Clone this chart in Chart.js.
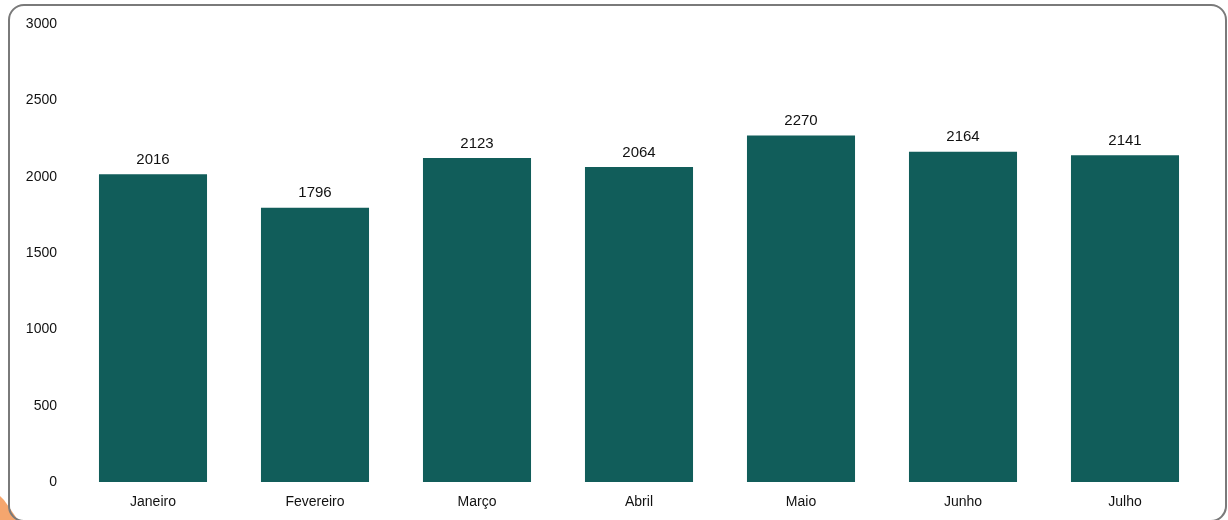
<!DOCTYPE html>
<html lang="pt">
<head>
<meta charset="utf-8">
<script src="https://cdn.jsdelivr.net/npm/chart.js"></script>
<style>
  html, body { margin: 0; padding: 0; background: #fff; }
  #wrap { position: relative; width: 1228px; height: 520px; overflow: hidden; }
  #frame { position: absolute; left: 8px; top: 4px; width: 1219px; height: 518px;
           border: 2px solid #7a7a7a; border-radius: 16px; box-sizing: border-box; }
  #blob { position: absolute; left: 0; top: 496px; width: 20px; height: 24px;
          background: #f5a66e; clip-path: polygon(0 0, 4px 4px, 18px 24px, 0 24px); }
  canvas { position: absolute; left: 0; top: 0; }
</style>
</head>
<body>
<div id="wrap">
  <div id="blob"></div>
  <div id="frame"></div>
  <canvas id="myChart" width="1228" height="520"></canvas>
</div>
<script>
const months = ['Janeiro', 'Fevereiro', 'Março', 'Abril', 'Maio', 'Junho', 'Julho'];
const totals = [2016, 1796, 2123, 2064, 2270, 2164, 2141];
const yTicks = [0, 500, 1000, 1500, 2000, 2500, 3000];

// labels on top of each bar
const barValues = {
  id: 'barValues',
  afterDatasetsDraw(chart) {
    const ctx = chart.ctx;
    const meta = chart.getDatasetMeta(0);
    ctx.save();
    ctx.font = '15px "Liberation Sans", Arial, sans-serif';
    ctx.fillStyle = '#111';
    ctx.textAlign = 'center';
    ctx.textBaseline = 'bottom';
    meta.data.forEach((bar, i) => {
      ctx.fillText(totals[i], bar.x, bar.y - 7);
    });
    ctx.restore();
  }
};

const config = {
  type: 'bar',
  data: {
    labels: months,
    datasets: [{
      data: totals,
      backgroundColor: '#115d5a',
      barPercentage: 0.667,
      categoryPercentage: 1
    }]
  },
  options: {
    responsive: false,
    animation: false,
    layout: { padding: { top: 24, right: 22, left: 0, bottom: 0 } },
    plugins: { legend: { display: false }, tooltip: { enabled: false } },
    scales: {
      x: {
        grid: { display: false, drawTicks: false },
        border: { display: false },
        ticks: { color: '#111', padding: 12, font: { family: '"Liberation Sans", Arial, sans-serif', size: 14 } },
        afterFit(scale) { scale.height = 38; }
      },
      y: {
        min: 0, max: 3000,
        afterBuildTicks(scale) { scale.ticks = yTicks.map(v => ({ value: v })); },
        grid: { display: false, drawTicks: false },
        border: { display: false },
        ticks: {
          color: '#111', padding: 15,
          font: { family: '"Liberation Sans", Arial, sans-serif', size: 14 },
          callback: v => String(v)
        },
        afterFit(scale) { scale.width = 72; }
      }
    }
  },
  plugins: [barValues]
};

const myChart = new Chart(document.getElementById('myChart'), config);
</script>
</body>
</html>
